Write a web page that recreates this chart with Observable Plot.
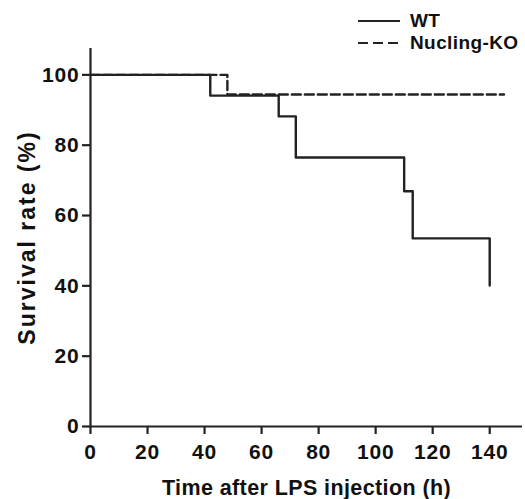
<!DOCTYPE html>
<html>
<head>
<meta charset="utf-8">
<script src="https://cdn.jsdelivr.net/npm/d3@7"></script>
<script src="https://cdn.jsdelivr.net/npm/@observablehq/plot@0.6"></script>
<style>
  html, body { margin: 0; padding: 0; background: #fff; }
  #wrap { position: relative; width: 525px; height: 499px; }
  #wrap svg { display: block; }
  [aria-label="x-axis label"] text { letter-spacing: 0.4px; }
  [aria-label="y-axis label"] text { letter-spacing: 2px; }
  [aria-label="x-axis tick label"] text, [aria-label="y-axis tick label"] text { letter-spacing: 0.8px; }
  #legend { position: absolute; left: 0; top: 0; width: 525px; height: 60px; pointer-events: none; }
</style>
</head>
<body>
<div id="wrap"></div>
<script>
// Data
const wtTimes = [0, 42, 66, 72, 110, 113, 140];
const wtSurvival = [100, 94.1, 88.2, 76.5, 66.9, 53.5, 40.1];
const koTimes = [0, 48, 145];
const koSurvival = [100, 94.4, 94.4];
const xTicks = [0, 20, 40, 60, 80, 100, 120, 140];
const yTicks = [0, 20, 40, 60, 80, 100];
const seriesNames = ["WT", "Nucling-KO"];
const xLabel = "Time after LPS injection (h)";
const yLabel = "Survival rate (%)";

const wt = wtTimes.map((t, i) => ({t, s: wtSurvival[i]}));
const ko = koTimes.map((t, i) => ({t, s: koSurvival[i]}));

const ink = "#222";
const font = "'Liberation Sans', Arial, Helvetica, sans-serif";

const chart = Plot.plot({
  width: 525,
  height: 499,
  marginLeft: 90,
  marginRight: 3,
  marginTop: 48,
  marginBottom: 73,
  x: {domain: [0, 151.5]},
  y: {domain: [0, 107.5]},
  style: {fontFamily: font, fontWeight: "bold", fontSize: "21px", color: "#111", background: "#fff"},
  marks: [
    Plot.ruleY([0], {stroke: ink, strokeWidth: 2.2}),
    Plot.ruleX([0], {stroke: ink, strokeWidth: 2.2}),
    Plot.axisX({ticks: xTicks, tickSize: 8, tickPadding: 10, stroke: ink, strokeWidth: 2.2,
      fontSize: 21, fontWeight: "bold",
      label: xLabel, labelAnchor: "center", labelOffset: 68, labelArrow: "none"}),
    Plot.axisY({ticks: yTicks, tickSize: 8, tickPadding: 3, stroke: ink, strokeWidth: 2.2,
      fontSize: 21, fontWeight: "bold",
      label: yLabel, labelAnchor: "center", labelOffset: 72, labelArrow: "none"}),
    Plot.line(ko, {x: "t", y: "s", curve: "step-after", stroke: ink, strokeWidth: 2.4, strokeDasharray: "9,4"}),
    Plot.line(wt, {x: "t", y: "s", curve: "step-after", stroke: ink, strokeWidth: 2.4})
  ]
});
// axis title sizes
chart.querySelectorAll('[aria-label="x-axis label"] text')
  .forEach(t => t.setAttribute("font-size", "21.5"));
chart.querySelectorAll('[aria-label="y-axis label"] text')
  .forEach(t => t.setAttribute("font-size", "23"));
document.getElementById("wrap").appendChild(chart);

// Legend (top right)
const legend = d3.select("#wrap").append("svg").attr("id", "legend")
  .attr("width", 525).attr("height", 60)
  .style("font-family", font).style("font-weight", "bold").style("font-size", "19px");
const rows = legend.selectAll("g").data(seriesNames).join("g")
  .attr("transform", (d, i) => `translate(358, ${21 + i * 22})`);
rows.append("line").attr("x1", 0).attr("x2", 42).attr("y1", 0).attr("y2", 0)
  .attr("stroke", ink).attr("stroke-width", 2.2)
  .attr("stroke-dasharray", (d, i) => i === 1 ? "10,5" : null);
rows.append("text").attr("x", 52).attr("y", 0).attr("dy", "0.3em").attr("fill", "#111")
  .style("letter-spacing", "0.4px").text(d => d);
</script>
</body>
</html>
